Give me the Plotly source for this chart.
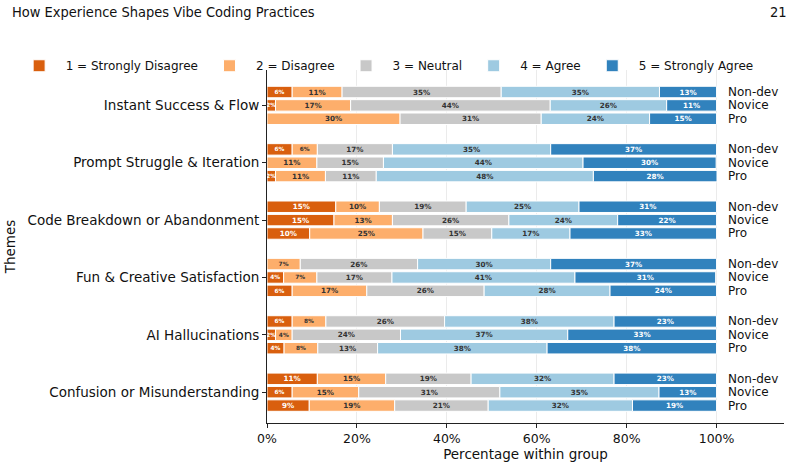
import plotly.graph_objects as go

themes = ["Instant Success & Flow", "Prompt Struggle & Iteration", "Code Breakdown or Abandonment",
          "Fun & Creative Satisfaction", "AI Hallucinations", "Confusion or Misunderstanding"]
groups = ["Non-dev", "Novice", "Pro"]
levels = ["1 = Strongly Disagree", "2 = Disagree", "3 = Neutral", "4 = Agree", "5 = Strongly Agree"]
colors = ["#d95f0e", "#fdae6b", "#c8c8c8", "#9ecae1", "#3182bd"]
text_colors = ["white", "#333333", "#333333", "#333333", "white"]

# percentages per theme, per group (Non-dev, Novice, Pro), per level 1..5
strongly_disagree = [[5.6, 1.9, 0.0], [5.6, 0.0, 1.9], [15.3, 14.9, 9.5], [0.0, 3.7, 5.6], [5.6, 1.9, 3.8], [11.2, 5.6, 9.4]]
disagree = [[11.1, 16.7, 29.6], [5.6, 11.1, 11.1], [9.7, 13.0, 25.2], [7.4, 7.4, 16.6], [7.5, 3.7, 7.5], [15.2, 14.8, 19.0]]
neutral = [[35.4, 44.4, 31.4], [16.7, 14.8, 11.3], [19.3, 25.9, 15.3], [26.1, 16.7, 26.1], [26.4, 24.1, 13.3], [19.0, 31.4, 20.8]]
agree = [[35.2, 25.9, 24.1], [35.2, 44.4, 48.3], [25.1, 24.2, 17.4], [29.6, 40.7, 28.0], [37.7, 37.2, 37.7], [31.8, 35.4, 32.1]]
strongly_agree = [[12.7, 11.1, 14.9], [36.9, 29.6, 27.5], [30.6, 22.0, 32.6], [36.9, 31.3, 23.7], [22.8, 33.1, 37.7], [22.8, 12.8, 18.7]]
series = [strongly_disagree, disagree, neutral, agree, strongly_agree]

row_offsets = [-0.233, 0.0, 0.233]

ypos = []
for ti in range(len(themes)):
    for gi in range(len(groups)):
        ypos.append(ti + row_offsets[gi])

fig = go.Figure()
cum = [0.0] * len(ypos)
for li, lvl in enumerate(levels):
    vals = [series[li][ti][gi] for ti in range(len(themes)) for gi in range(len(groups))]
    texts = [f"{round(v)}%" if v > 0 else "" for v in vals]
    sizes = [5.8 if v < 8 else 7.2 for v in vals]
    fig.add_trace(go.Bar(
        x=vals, y=ypos, base=cum[:], orientation="h", name=lvl,
        width=0.2,
        marker=dict(color=colors[li], line=dict(color="white", width=1)),
        text=texts, textposition="inside", insidetextanchor="middle", textangle=0,
        constraintext="none",
        textfont=dict(size=sizes, color=text_colors[li], family="DejaVu Sans", weight="bold"),
        hoverinfo="skip",
    ))
    cum = [c + v for c, v in zip(cum, vals)]

# row labels
for ti in range(len(themes)):
    for gi, g in enumerate(groups):
        fig.add_annotation(x=102, y=ti + row_offsets[gi], text=g, showarrow=False,
                           xanchor="left", yanchor="middle", xref="x", yref="y",
                           font=dict(size=12, color="#111", family="DejaVu Sans"))

header_font = "Liberation Sans Narrow, DejaVu Sans Condensed, sans-serif"
fig.add_annotation(x=-0.498, y=1.164, xref="paper", yref="paper",
                   text="How Experience Shapes Vibe Coding Practices",
                   showarrow=False, xanchor="left", yanchor="middle",
                   font=dict(size=14.5, color="#111", family=header_font))
fig.add_annotation(x=1.01, y=1.164, xref="paper", yref="paper", text="21", showarrow=False,
                   xanchor="right", yanchor="middle",
                   font=dict(size=14.5, color="#111", family=header_font))

fig.update_layout(
    width=799, height=468,
    margin=dict(l=264, r=15, t=70, b=45),
    plot_bgcolor="white", paper_bgcolor="white",
    barmode="overlay",
    font=dict(family="DejaVu Sans", size=12, color="#111"),
    showlegend=True,
    legend=dict(orientation="h", x=-0.492, xanchor="left", y=1.012, yanchor="middle",
                font=dict(size=12), itemwidth=43, bgcolor="rgba(0,0,0,0)", traceorder="normal"),
    xaxis=dict(range=[0, 115], tickvals=[0, 20, 40, 60, 80, 100],
               ticktext=["0%", "20%", "40%", "60%", "80%", "100%"],
               showgrid=True, gridcolor="#ebebeb", gridwidth=0.8,
               showline=True, linecolor="#222", linewidth=0.8,
               ticks="outside", ticklen=4, tickcolor="#222",
               tickfont=dict(size=12.5), zeroline=False, automargin=False,
               title=dict(text="Percentage within group", font=dict(size=13.5), standoff=1)),
    yaxis=dict(range=[5.537, -0.617], tickvals=list(range(len(themes))), ticktext=themes,
               showgrid=False, showline=True, linecolor="#222", linewidth=0.8,
               ticks="outside", ticklen=4, tickcolor="#222", zeroline=False,
               tickfont=dict(size=13.5), automargin=False,
               title=dict(text="Themes", font=dict(size=13.5), standoff=8)),
)

fig.write_html("out.html")
